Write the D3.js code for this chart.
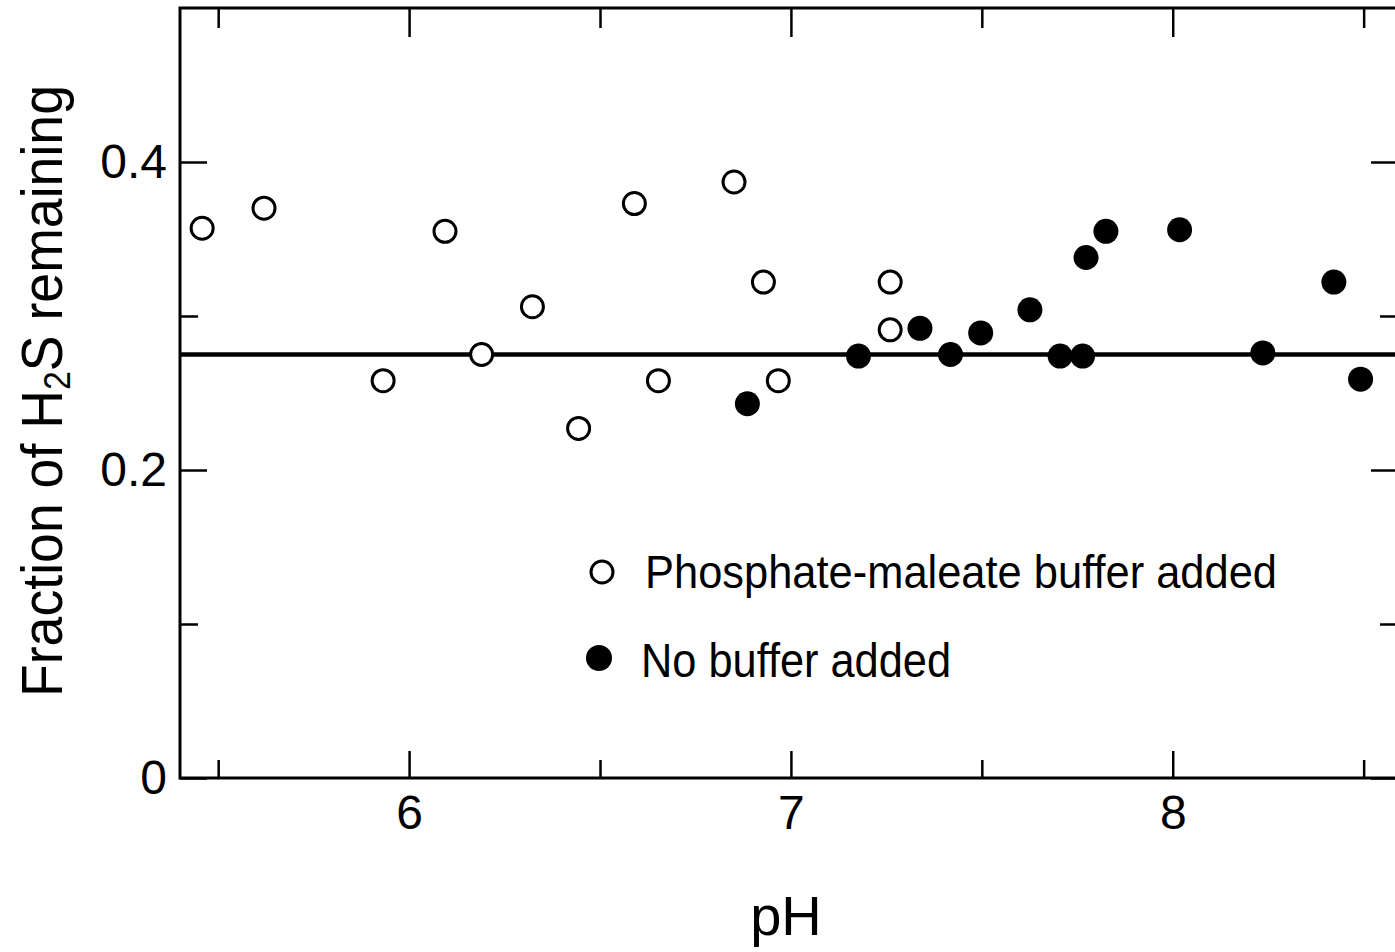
<!DOCTYPE html>
<html>
<head>
<meta charset="utf-8">
<script src="https://cdn.jsdelivr.net/npm/d3@7"></script>
<style>
  html, body { margin: 0; padding: 0; background: #fff; }
  svg { display: block; }
  text { font-family: "Liberation Sans", Arial, sans-serif; fill: #000; }
</style>
</head>
<body>
<svg id="chart" width="1395" height="952"></svg>
<script>
// ---- data ----
const bufferedPH   = [5.458, 5.620, 5.932, 6.094, 6.190, 6.323, 6.444, 6.590, 6.653, 6.851, 6.928, 6.967, 7.260, 7.260];
const bufferedFrac = [0.357, 0.370, 0.258, 0.355, 0.275, 0.306, 0.227, 0.373, 0.258, 0.387, 0.322, 0.258, 0.322, 0.291];
const noBufferPH   = [6.886, 7.177, 7.338, 7.418, 7.497, 7.626, 7.705, 7.764, 7.773, 7.825, 8.018, 8.236, 8.422, 8.492];
const noBufferFrac = [0.243, 0.274, 0.292, 0.275, 0.289, 0.304, 0.274, 0.274, 0.338, 0.355, 0.356, 0.276, 0.322, 0.259];
const meanFraction = 0.275;

const xMajorTicks = [6, 7, 8];
const xMinorTicks = [5.5, 6.5, 7.5, 8.5];
const yMajorTicks = [0, 0.2, 0.4];
const yMinorTicks = [0.1, 0.3];
const yTickLabels = ["0", "0.2", "0.4"];
const legendLabels = ["Phosphate-maleate buffer added", "No buffer added"];

// ---- layout ----
const svg = d3.select("#chart");
const L = 180, R = 1398, T = 8, B = 778;
const x = d3.scaleLinear().domain([5.4, 8.59]).range([L, R]);
const y = d3.scaleLinear().domain([0, 0.5]).range([B, T]);
const MAJ = 27, MIN = 18;

function styleAxis(g, sw) {
  g.select(".domain").remove();
  g.selectAll(".tick line").attr("stroke", "#000").attr("stroke-width", sw);
}

// bottom axis (major with labels, minor without)
svg.append("g").attr("transform", `translate(0,${B})`)
  .call(d3.axisBottom(x).tickValues(xMajorTicks).tickSizeInner(-MAJ).tickSizeOuter(0).tickPadding(17).tickFormat(d3.format("d")))
  .call(g => { styleAxis(g, 2.5); g.selectAll("text").attr("font-size", 48).attr("font-family", "Liberation Sans, Arial, sans-serif"); });
svg.append("g").attr("transform", `translate(0,${B})`)
  .call(d3.axisBottom(x).tickValues(xMinorTicks).tickSizeInner(-MIN).tickSizeOuter(0).tickFormat(""))
  .call(g => styleAxis(g, 2.5));
// top axis
svg.append("g").attr("transform", `translate(0,${T})`)
  .call(d3.axisTop(x).tickValues(xMajorTicks).tickSizeInner(-MAJ - 2).tickSizeOuter(0).tickFormat(""))
  .call(g => styleAxis(g, 2.5));
svg.append("g").attr("transform", `translate(0,${T})`)
  .call(d3.axisTop(x).tickValues(xMinorTicks).tickSizeInner(-MIN - 2).tickSizeOuter(0).tickFormat(""))
  .call(g => styleAxis(g, 2.5));
// left axis
svg.append("g").attr("transform", `translate(${L},0)`)
  .call(d3.axisLeft(y).tickValues(yMajorTicks).tickSizeInner(-MAJ).tickSizeOuter(0).tickPadding(13)
        .tickFormat((d, i) => yTickLabels[i]))
  .call(g => { styleAxis(g, 2.5); g.selectAll("text").attr("font-size", 48).attr("font-family", "Liberation Sans, Arial, sans-serif"); });
svg.append("g").attr("transform", `translate(${L},0)`)
  .call(d3.axisLeft(y).tickValues(yMinorTicks).tickSizeInner(-MIN).tickSizeOuter(0).tickFormat(""))
  .call(g => styleAxis(g, 2.5));
// right axis
svg.append("g").attr("transform", `translate(${R},0)`)
  .call(d3.axisRight(y).tickValues(yMajorTicks).tickSizeInner(-MAJ).tickSizeOuter(0).tickFormat(""))
  .call(g => styleAxis(g, 2.5));
svg.append("g").attr("transform", `translate(${R},0)`)
  .call(d3.axisRight(y).tickValues(yMinorTicks).tickSizeInner(-MIN).tickSizeOuter(0).tickFormat(""))
  .call(g => styleAxis(g, 2.5));

// frame
svg.append("rect").attr("x", L).attr("y", T).attr("width", R - L).attr("height", B - T)
  .attr("fill", "none").attr("stroke", "#000").attr("stroke-width", 3);

// mean line
svg.append("line")
  .attr("x1", x(5.4)).attr("x2", x(8.59))
  .attr("y1", y(meanFraction)).attr("y2", y(meanFraction))
  .attr("stroke", "#000").attr("stroke-width", 4.5);

// points
const buffered = bufferedPH.map((p, i) => ({ p, f: bufferedFrac[i] }));
const noBuffer = noBufferPH.map((p, i) => ({ p, f: noBufferFrac[i] }));

svg.append("g").selectAll("circle").data(buffered).join("circle")
  .attr("cx", d => x(d.p)).attr("cy", d => y(d.f)).attr("r", 11)
  .attr("fill", "#fff").attr("stroke", "#000").attr("stroke-width", 3);
svg.append("g").selectAll("circle").data(noBuffer).join("circle")
  .attr("cx", d => x(d.p)).attr("cy", d => y(d.f)).attr("r", 12.5)
  .attr("fill", "#000");

// legend
const lg = svg.append("g");
lg.append("circle").attr("cx", 602).attr("cy", 572).attr("r", 11)
  .attr("fill", "#fff").attr("stroke", "#000").attr("stroke-width", 3);
lg.append("text").attr("x", 645).attr("y", 588).attr("font-size", 47)
  .attr("textLength", 632).attr("lengthAdjust", "spacingAndGlyphs").text(legendLabels[0]);
lg.append("circle").attr("cx", 599).attr("cy", 658).attr("r", 13).attr("fill", "#000");
lg.append("text").attr("x", 641).attr("y", 677).attr("font-size", 49)
  .attr("textLength", 310).attr("lengthAdjust", "spacingAndGlyphs").text(legendLabels[1]);

// axis titles
svg.append("text").attr("x", 786).attr("y", 935).attr("text-anchor", "middle")
  .attr("font-size", 56).text("pH");

const yl = svg.append("text").attr("transform", "translate(62,391) rotate(-90)")
  .attr("text-anchor", "middle").attr("font-size", 57)
  .attr("textLength", 612).attr("lengthAdjust", "spacingAndGlyphs");
yl.append("tspan").text("Fraction of H");
yl.append("tspan").attr("font-size", 36).attr("dy", 8).text("2");
yl.append("tspan").attr("dy", -8).text("S remaining");
</script>
</body>
</html>
